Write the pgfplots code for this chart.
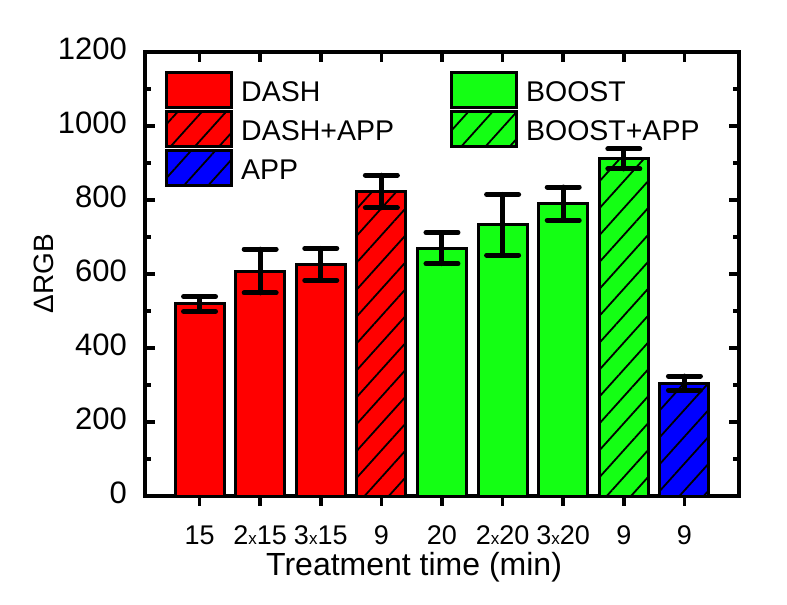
\documentclass[border=0pt]{standalone}
\usepackage{fontspec}
\setmainfont{Liberation Sans}
\usepackage{pgfplots}
\pgfplotsset{compat=1.18}
\usetikzlibrary{patterns.meta}
\definecolor{myred}{RGB}{255,0,0}
\definecolor{mygreen}{RGB}{20,255,20}
\definecolor{myblue}{RGB}{0,0,255}
\newcommand{\sx}{{\fontsize{17bp}{17bp}\selectfont x}}
\begin{document}
\begin{tikzpicture}
\path[use as bounding box] (-145bp,-109bp) rectangle (642bp,496bp);
\begin{axis}[
  scale only axis, width=594bp, height=444bp,
  xmin=-0.9, xmax=8.9, ymin=0, ymax=1200,
  clip=false,
  bar width=0.81,
  xtick={0,...,8},
  xticklabels={15,2\sx15,3\sx15,9,20,2\sx20,3\sx20,9,9},
  xtick pos=both, xticklabel pos=left,
  ytick={0,200,...,1200}, minor y tick num=1,
  tick align=inside,
  major tick length=10bp, minor tick length=6bp,
  tick style={line width=3.5bp, black},
  axis line style={line width=4bp},
  /pgf/number format/assume math mode=true,
  /pgf/number format/1000 sep={},
  yticklabel style={font=\fontsize{31bp}{36bp}\selectfont, inner sep=0pt, xshift=-18bp, yshift=3bp},
  xticklabel style={font=\fontsize{27bp}{30bp}\selectfont, anchor=base, inner sep=0pt, yshift=-48bp},
  ylabel={ΔRGB},
  ylabel style={at={(axis description cs:-0.170,0.5)}, anchor=center, font=\fontsize{28bp}{34bp}\selectfont},
  xlabel={Treatment time (min)},
  xlabel style={at={(axis description cs:0.453,-0.178)}, anchor=base, font=\fontsize{32bp}{38bp}\selectfont},
  error bars/y dir=both, error bars/y explicit,
  error bars/error bar style={line width=5bp, black, line cap=round},
  error bars/error mark options={rotate=90, line width=5bp, mark size=16bp, black, line cap=round},
  legend columns=2,
  legend cell align=left,
  legend image code/.code={\draw[#1] (0bp,-7.5bp) rectangle (65bp,27.5bp);},
  legend style={at={(axis description cs:0.0337,0.957)}, anchor=north west,
    draw=none, fill=none, inner sep=0pt, row sep=1bp, column sep=8bp,
    /tikz/every even column/.append style={column sep=56bp},
    font=\fontsize{28.5bp}{34bp}\selectfont,
    nodes={inner sep=0pt, yshift=7.5bp}},
]
\addplot[ybar, fill=myred, draw=black, line width=3bp]
  coordinates {(0,519) +- (0,20) (1,608) +- (0,59) (2,626) +- (0,43)};
\addlegendentry{DASH}
\addplot[ybar, fill=mygreen, draw=black, line width=3bp]
  coordinates {(4,670) +- (0,42) (5,733) +- (0,82) (6,790) +- (0,45)};
\addlegendentry{BOOST}
\addplot[ybar, fill=myred, draw=black, line width=3bp,
  postaction={pattern={Lines[angle=48,distance=18bp,line width=1.8bp]}, pattern color=black}]
  coordinates {(3,823) +- (0,44)};
\addlegendentry{DASH+APP}
\addplot[ybar, fill=mygreen, draw=black, line width=3bp,
  postaction={pattern={Lines[angle=48,distance=18bp,line width=1.8bp]}, pattern color=black}]
  coordinates {(7,911) +- (0,27)};
\addlegendentry{BOOST+APP}
\addplot[ybar, fill=myblue, draw=black, line width=3bp,
  postaction={pattern={Lines[angle=48,distance=18bp,line width=1.8bp]}, pattern color=black}]
  coordinates {(8,305) +- (0,19)};
\addlegendentry{APP}
% top inward tick marks
\addplot[only marks, mark=|, mark size=5bp, forget plot,
  mark options={line width=3.5bp, draw=black, line cap=butt}]
  coordinates {(0,1186.5) (1,1186.5) (2,1186.5) (3,1186.5) (4,1186.5)
               (5,1186.5) (6,1186.5) (7,1186.5) (8,1186.5)};
% bottom outward tick marks
\addplot[only marks, mark=|, mark size=5bp, forget plot,
  mark options={line width=3.5bp, draw=black, line cap=butt}]
  coordinates {(0,-13.5) (1,-13.5) (2,-13.5) (3,-13.5) (4,-13.5)
               (5,-13.5) (6,-13.5) (7,-13.5) (8,-13.5)};
\end{axis}
\end{tikzpicture}
\end{document}
